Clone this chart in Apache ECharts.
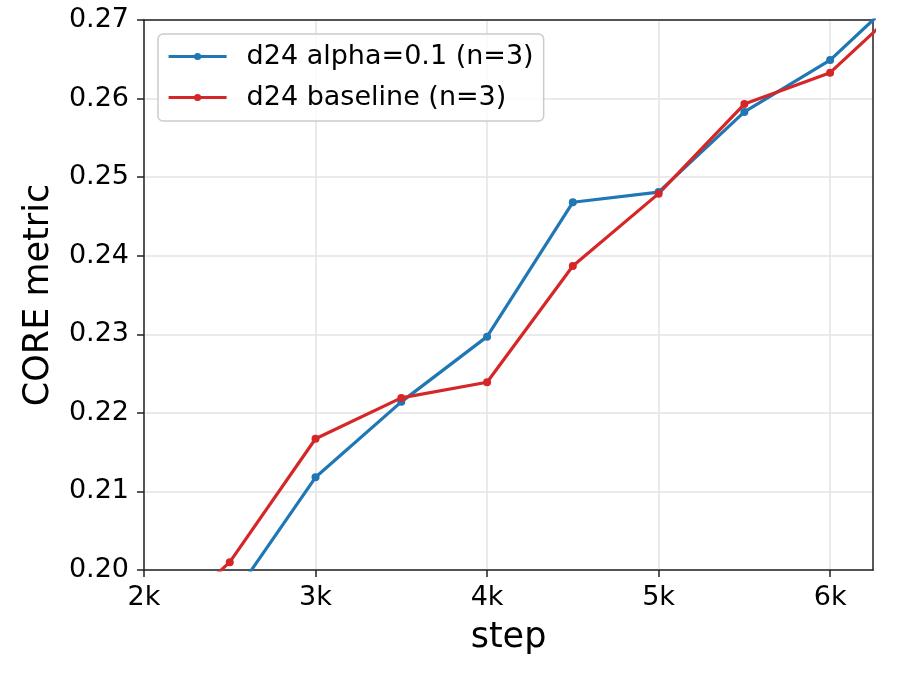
<!DOCTYPE html>
<html>
<head>
<meta charset="utf-8">
<title>CORE metric vs step</title>
<script src="https://cdn.jsdelivr.net/npm/echarts@6/dist/echarts.min.js"></script>
<style>
  html, body { margin: 0; padding: 0; background: #fff; }
  #myChart { width: 900px; height: 675px; }
</style>
</head>
<body>
<div id="myChart"></div>
<script>
// data
var steps = [2000, 2500, 3000, 3500, 4000, 4500, 5000, 5500, 6000, 6500];
var alphaValues = [null, 0.196, 0.2118, 0.2214, 0.2297, 0.2468, 0.2481, 0.2583, 0.2649, 0.2751];
var baselineValues = [0.191, 0.2010, 0.2167, 0.2219, 0.2239, 0.2387, 0.2479, 0.2593, 0.2633, 0.2734];
var seriesNames = ['d24 alpha=0.1 (n=3)', 'd24 baseline (n=3)'];
var xTicks = [2000, 3000, 4000, 5000, 6000];

function pairs(values) {
	var out = [];
	for (var i = 0; i < steps.length; i++) {
		out.push([steps[i], values[i]]);
	}
	return out;
}

var font = 'DejaVu Sans';
var spine = { show: true, lineStyle: { color: '#222', width: 1.5 } };
var myChart = echarts.init(document.getElementById('myChart'));
var option = {
	animation: false,
	textStyle: { fontFamily: font },
	grid: { left: 144, right: 27, top: 20, bottom: 105 },
	legend: {
		left: 158,
		top: 34,
		orient: 'vertical',
		itemWidth: 58,
		itemHeight: 9,
		itemGap: 14,
		padding: [9, 10, 10, 9],
		backgroundColor: 'rgba(255,255,255,0.8)',
		borderColor: '#cccccc',
		borderWidth: 1.5,
		borderRadius: 5,
		lineStyle: { width: 3.2 },
		textStyle: { fontFamily: font, fontSize: 27, color: '#000', padding: [0, 0, 0, 15] },
		data: seriesNames
	},
	xAxis: [{
		type: 'value',
		min: 2000,
		max: 6250,
		interval: 1000,
		name: 'step',
		nameLocation: 'middle',
		nameGap: 50,
		nameTextStyle: { fontFamily: font, fontSize: 35, color: '#000' },
		axisLine: spine,
		axisTick: { show: true, length: 7, lineStyle: { color: '#222', width: 1.5 }, customValues: xTicks },
		axisLabel: {
			fontFamily: font, fontSize: 27, color: '#000', margin: 14,
			customValues: xTicks,
			formatter: function (v) { return (v / 1000) + 'k'; }
		},
		splitLine: { show: true, lineStyle: { color: '#e3e3e3', width: 1.5 } }
	}, {
		// top spine only
		type: 'value', position: 'top', min: 2000, max: 6250,
		axisLine: spine, axisTick: { show: false }, axisLabel: { show: false }, splitLine: { show: false }
	}],
	yAxis: [{
		type: 'value',
		min: 0.2,
		max: 0.27,
		interval: 0.01,
		name: 'CORE metric',
		nameLocation: 'middle',
		nameGap: 88,
		nameTextStyle: { fontFamily: font, fontSize: 35, color: '#000' },
		axisLine: spine,
		axisTick: { show: true, length: 7, lineStyle: { color: '#222', width: 1.5 } },
		axisLabel: {
			fontFamily: font, fontSize: 27, color: '#000', margin: 15,
			formatter: function (v) { return v.toFixed(2); }
		},
		splitLine: { show: true, lineStyle: { color: '#e3e3e3', width: 1.5 } }
	}, {
		// right spine only
		type: 'value', position: 'right', min: 0.2, max: 0.27,
		axisLine: spine, axisTick: { show: false }, axisLabel: { show: false }, splitLine: { show: false }
	}],
	series: [
		{
			name: seriesNames[0],
			type: 'line',
			data: pairs(alphaValues),
			color: '#1f77b4',
			symbol: 'circle',
			symbolSize: 8,
			lineStyle: { width: 3.2 },
			clip: true
		},
		{
			name: seriesNames[1],
			type: 'line',
			data: pairs(baselineValues),
			color: '#d62728',
			symbol: 'circle',
			symbolSize: 8,
			lineStyle: { width: 3.2 },
			clip: true
		}
	]
};
myChart.setOption(option);
</script>
</body>
</html>
